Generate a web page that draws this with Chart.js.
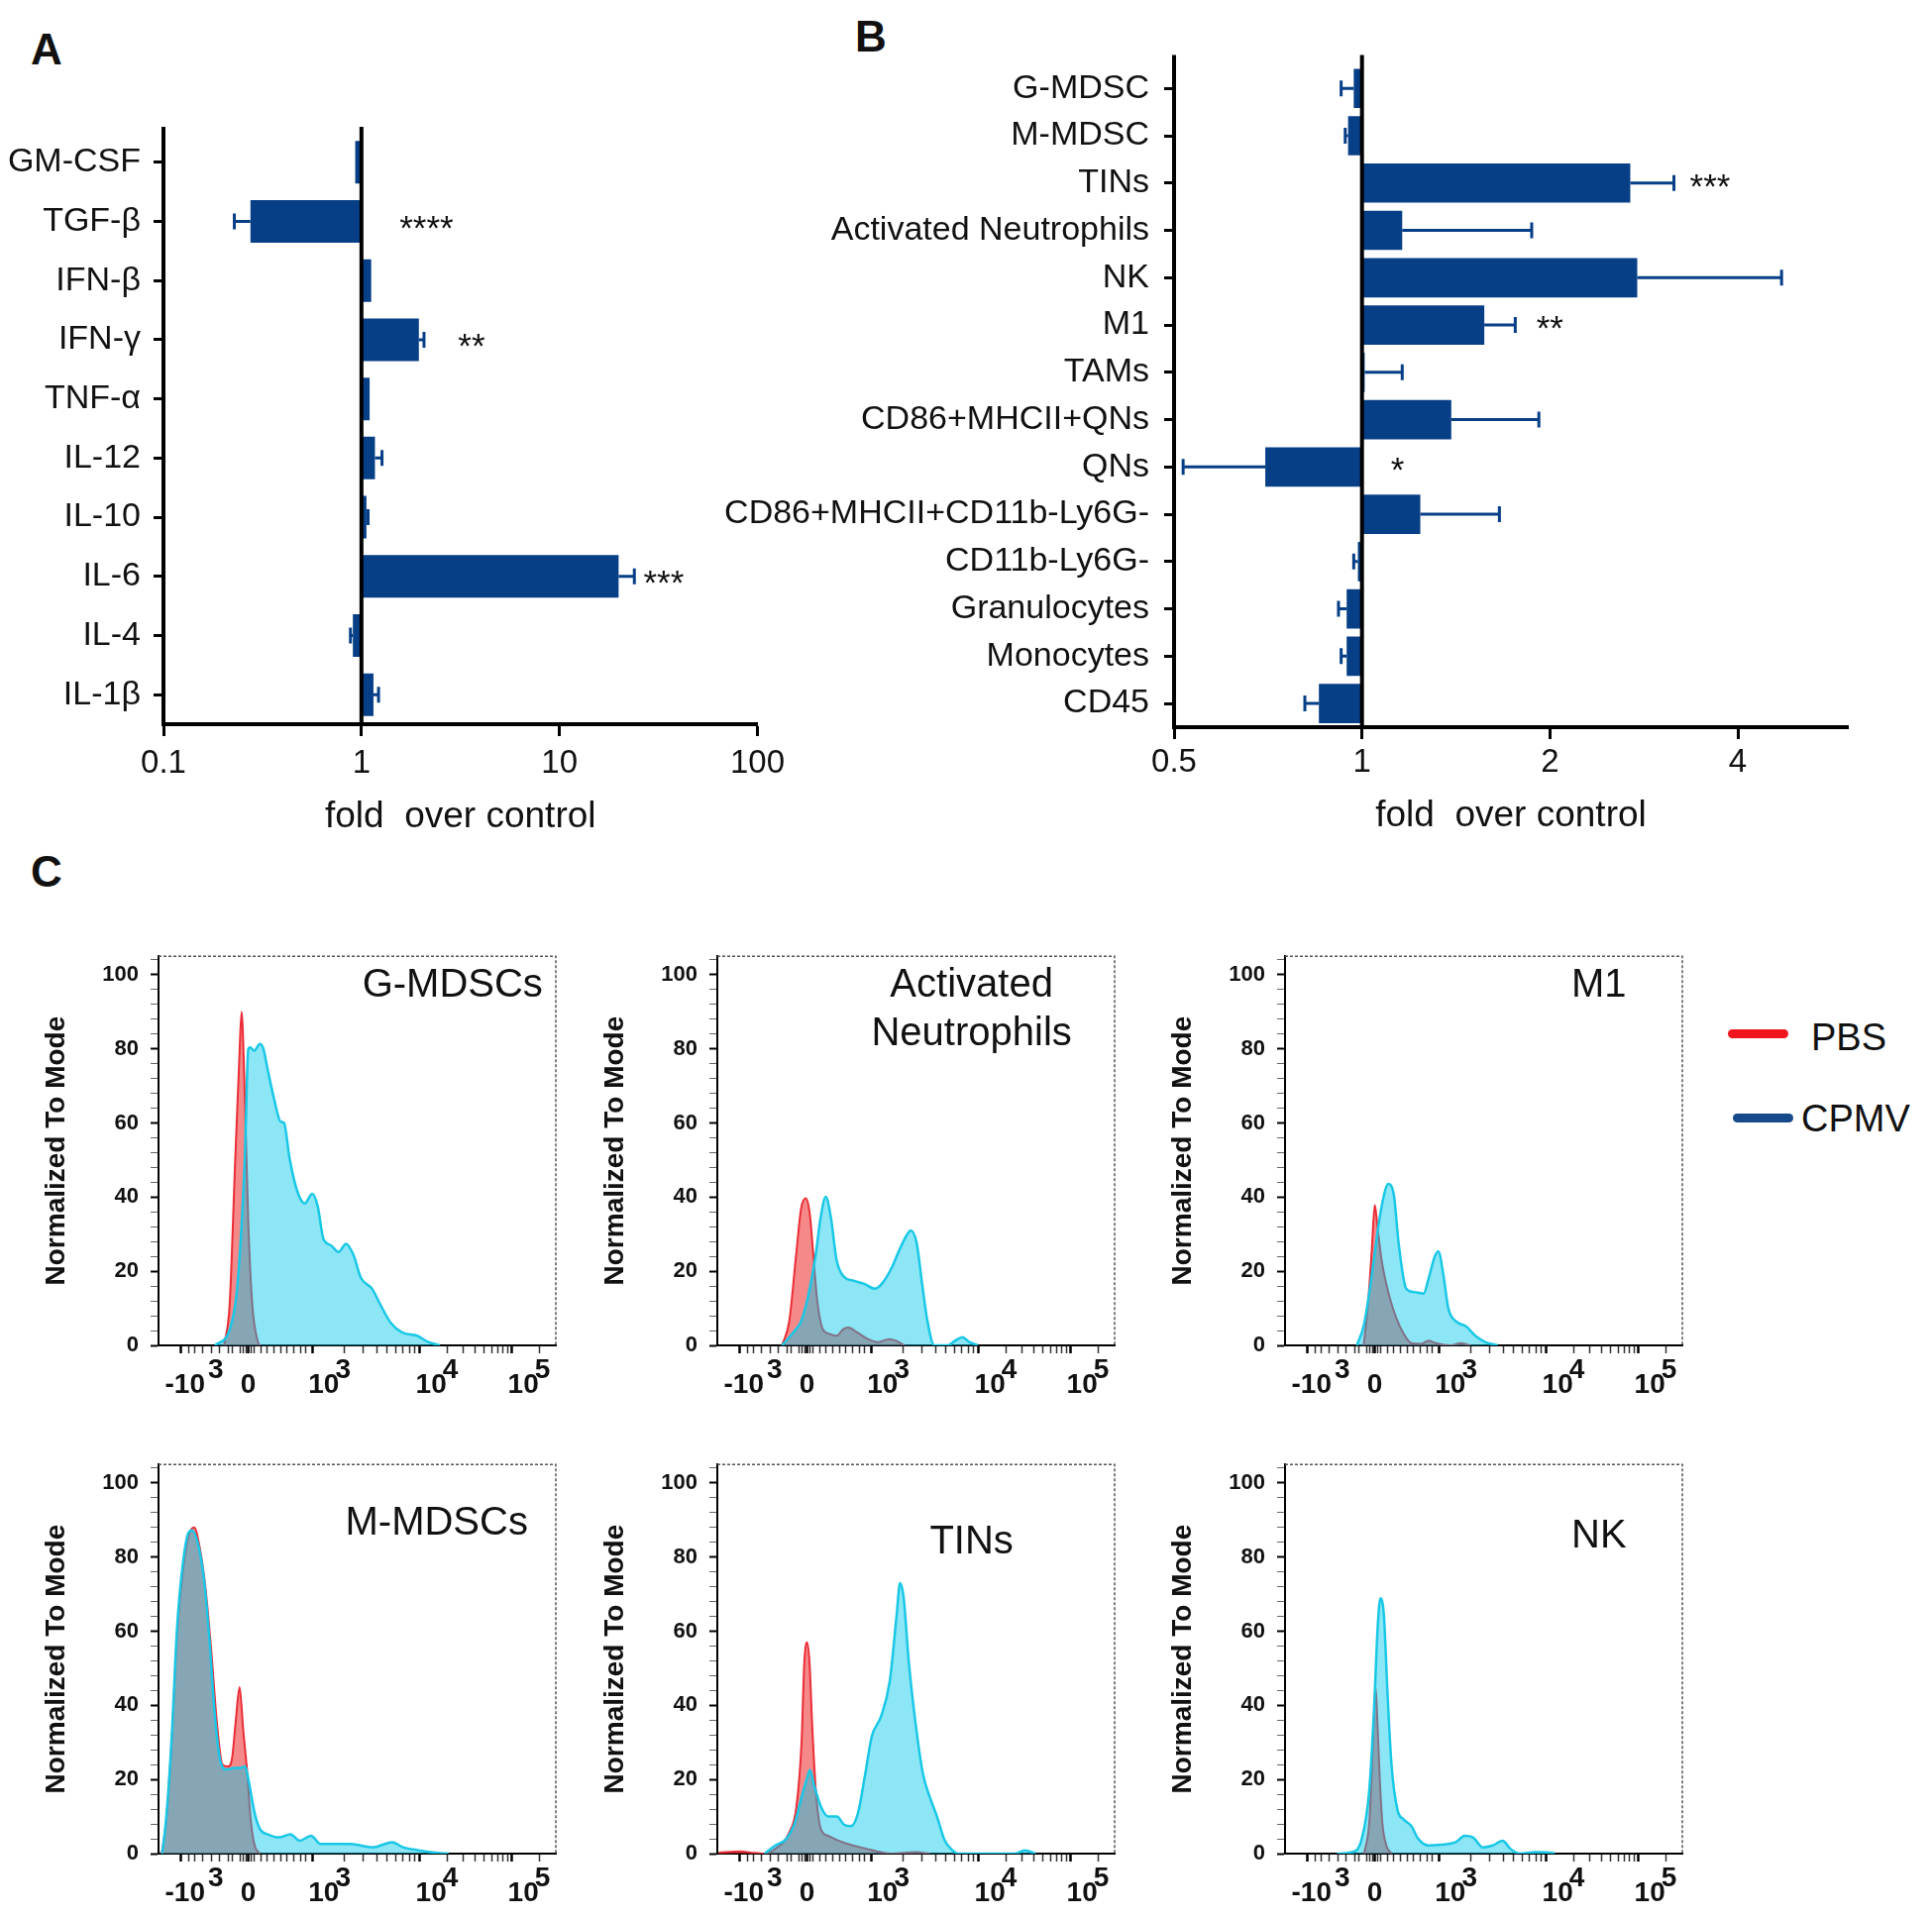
<!DOCTYPE html>
<html>
<head>
<meta charset="utf-8">
<script src="https://cdn.jsdelivr.net/npm/chart.js@4.4.1/dist/chart.umd.min.js"></script>
<style>
  html, body { margin: 0; padding: 0; background: #fff; }
  body { width: 1950px; height: 1937px; position: relative; overflow: hidden; font-family: "Liberation Sans", Arial, sans-serif; color: #111; }
  .letter { position: absolute; font-weight: bold; font-size: 44px; line-height: 1; transform: translate(-50%, -50%); }
  .legend-line { position: absolute; height: 9px; border-radius: 5px; }
  .legend-text { position: absolute; font-size: 38px; line-height: 1; transform: translateY(-50%); }
</style>
</head>
<body>
<div class="letter" style="left:47px;top:50px">A</div>
<div class="letter" style="left:879px;top:37px">B</div>
<div class="letter" style="left:47px;top:880px">C</div>

<div class="legend-line" style="left:1744px;top:1039px;width:61px;background:#f0141e"></div>
<div class="legend-text" style="left:1828px;top:1047px">PBS</div>
<div class="legend-line" style="left:1749px;top:1124px;width:61px;background:#174a8b"></div>
<div class="legend-text" style="left:1818px;top:1129px">CPMV</div>

<script>
// ---- panel A : cytokines ----
const cytokines = ['GM-CSF', 'TGF-β', 'IFN-β', 'IFN-γ', 'TNF-α', 'IL-12', 'IL-10', 'IL-6', 'IL-4', 'IL-1β'];
const cytokineFold = [0.93, 0.275, 1.12, 1.95, 1.10, 1.17, 1.06, 19.9, 0.905, 1.15];
const cytokineErr = [0.93, 0.228, 1.12, 2.07, 1.10, 1.27, 1.08, 23.9, 0.88, 1.22];
const cytokineSig = ['', '****', '', '**', '', '', '', '***', '', ''];
const cytokineSigAt = [null, 2.13, null, 3.6, null, null, null, 33.6, null, null];
const foldTicksA = [0.1, 1, 10, 100];
const foldLabelsA = ['0.1', '1', '10', '100'];

// ---- panel B : immune cell populations ----
const cellTypes = ['G-MDSC', 'M-MDSC', 'TINs', 'Activated Neutrophils', 'NK', 'M1', 'TAMs',
  'CD86+MHCII+QNs', 'QNs', 'CD86+MHCII+CD11b-Ly6G-', 'CD11b-Ly6G-', 'Granulocytes', 'Monocytes', 'CD45'];
const cellFold = [0.97, 0.95, 2.69, 1.16, 2.76, 1.57, 1.01, 1.39, 0.70, 1.24, 0.985, 0.945, 0.945, 0.853];
const cellErr = [0.926, 0.94, 3.16, 1.87, 4.7, 1.76, 1.16, 1.92, 0.517, 1.66, 0.97, 0.917, 0.926, 0.81];
const cellSig = ['', '', '***', '', '', '**', '', '', '*', '', '', '', '', ''];
const cellSigAt = [null, null, 3.61, null, null, 2.0, null, null, 1.14, null, null, null, null, null];
const foldTicksB = [0.5, 1, 2, 4];
const foldLabelsB = ['0.5', '1', '2', '4'];

// ---- panel C : histograms (x = display channel, % of axis; y = % of mode) ----
const fluorTickPos = [5.7, 22.6, 38.7, 65.7, 88.9];
// two-line labels: exponent row above the base row
const fluorTickLabels = [['         3', ' -10'], ['', '0'], ['        3', '   10'], ['        4', '   10'], ['        5', '   10']];
const fluorMinorTicks = [7.5, 9.1, 11.2, 13.3, 15.4, 17.5, 18.7, 20.5, 21.2, 22.0, 23.2, 24.0,
  25.8, 27.4, 29.1, 30.8, 32.4, 34.1, 35.7, 37.0, 46.8, 51.6, 55.0, 57.6, 59.7, 61.5, 63.1, 64.5,
  72.7, 76.8, 79.7, 81.9, 83.8, 85.3, 86.7, 87.9, 95.9];
const modeTicks = [0, 20, 40, 60, 80, 100];

const gmdscCPMV = [[14.2,0],[17.9,4.3],[19.8,15.6],[21.7,50],[22.6,80],[23.1,80.4],[24.1,79.5],[25.5,81.3],[26.4,80],[27.4,74.8],[29.2,66],[30.7,60.4],[31.6,60],[33.0,50.4],[34.9,41.7],[36.8,38.3],[38.7,40.9],[40.1,37.4],[41.5,28.7],[43.4,27],[45.3,25.2],[47.2,27.4],[49.1,24.3],[50.9,18.3],[53.8,15.2],[55.7,11.3],[58.5,6],[61.3,3.5],[65.1,2.6],[67.9,0.9],[70.8,0]];
const gmdscPBS = [[16.5,0],[17.9,11],[19.3,50],[20.3,76.5],[20.9,90],[21.7,68],[22.6,33],[23.6,11],[25.0,1],[25.5,0]];

const actNeutCPMV = [[16.3,0],[19.4,3.9],[21.1,6.5],[22.9,13.5],[24.7,24],[26.0,34.4],[27.3,40.1],[28.6,34.4],[30.0,23.1],[31.7,18.7],[34.4,17.4],[37.0,16.6],[39.6,15.3],[41.4,16.6],[44.1,21.4],[45.8,25.7],[47.6,29.6],[48.7,31],[50.2,27.5],[51.5,17],[52.9,6.5],[54.6,0],[58.1,0],[59.9,1.3],[61.7,2.2],[63.4,0.9],[65.6,0]];
const actNeutPBS = [[16.3,0],[18.1,6.5],[19.8,24],[21.1,37],[22.3,39.7],[23.3,35.3],[24.2,24],[25.1,12.6],[26.4,4.8],[28.2,3.1],[30.0,2.6],[31.7,4.4],[33.0,4.8],[35.2,3.5],[37.9,1.7],[40.5,0.9],[43.2,1.7],[44.9,1.3],[47.1,0]];

const m1CPMV = [[18.1,0],[19.9,5.7],[21.8,18.7],[23.7,33.6],[24.9,40.5],[25.9,43.6],[27.4,40.5],[28.6,27.5],[30.5,15.3],[32.4,14.4],[34.9,14],[36.1,17.9],[37.7,24],[38.6,25.3],[39.9,18.7],[41.1,10],[43.0,6.5],[45.5,5.2],[47.9,2.6],[50.4,0.9],[53.5,0]];
const m1PBS = [[19.8,0],[20.8,10],[21.8,25],[22.6,37.9],[23.3,31.8],[24.3,23.1],[26.2,13.5],[28.0,7.4],[29.9,3.1],[31.8,0.6],[34.2,0.4],[36.1,1.3],[38.0,0.6],[41.7,0],[44.2,0.6],[46.7,0]];

const mmdscCPMV = [[0.9,0],[1.9,9.2],[3.3,31],[4.7,61.5],[6.2,78.9],[7.6,86.7],[8.5,87.2],[10.0,83.3],[11.4,74.5],[12.8,58],[14.2,37.1],[15.6,24.8],[17.1,22.7],[19.0,23.1],[20.4,23.1],[21.8,23.5],[22.7,19.6],[24.2,10.9],[25.6,6.5],[27.5,5.2],[30.3,4.4],[33.2,5.2],[35.5,3.5],[38.4,4.8],[40.8,2.6],[43.6,2.6],[48.3,2.6],[54.0,1.7],[58.8,3.1],[61.6,1.7],[65.4,0.9],[70.1,0.2],[73.0,0]];
const mmdscPBS = [[0.8,0],[1.9,8.3],[3.3,30],[4.7,59.7],[6.2,77],[7.6,85.8],[9.0,88],[10.4,82.4],[11.8,71.9],[13.3,54.5],[14.7,35.3],[16.1,24],[17.5,23.5],[18.5,25.7],[19.4,35.3],[20.4,44.9],[21.3,33.6],[22.3,22.2],[23.2,9.2],[24.2,2.2],[25.6,0]];

const tinsCPMV = [[11.9,0],[14.6,2.2],[17.3,3.9],[19.5,8.3],[21.2,15.2],[22.6,20.4],[23.3,22.6],[24.3,18.7],[26.1,12.6],[27.9,10],[30.1,10],[31.9,7.8],[33.6,7.4],[35.4,10.9],[37.2,21.3],[38.9,31.7],[41.2,37],[43.4,46.5],[45.1,63.9],[46.0,73],[46.9,69.1],[48.2,51.7],[50.0,34.3],[51.8,21.3],[53.5,15.2],[55.3,10],[57.1,3.9],[58.8,1.3],[60.6,0],[74.8,0],[77.4,0.9],[80.1,0]];
const tinsPBS = [[0.4,0.3],[5.8,0.6],[8.4,0.3],[11.9,0],[14.6,1.3],[18.1,5.7],[19.9,12.6],[21.2,30],[21.9,51.7],[22.6,57],[23.2,51.7],[23.9,34.3],[24.8,17],[26.1,6.5],[27.9,4.8],[30.5,3.5],[34.1,2.2],[37.6,1.3],[41.2,0.4],[43.8,0],[50.0,0.4],[53.5,0]];

const nkCPMV = [[13.1,0],[16.8,0.4],[19.3,3.9],[21.2,17],[22.4,38.8],[23.3,60.6],[24.0,68.9],[24.9,64.1],[25.8,43.2],[26.8,24],[28.3,11.8],[29.9,9.2],[31.8,7.4],[33.6,3.9],[36.1,2.2],[39.2,2.4],[43.0,3.1],[45.2,4.8],[47.3,4.4],[49.8,1.7],[52.3,2.2],[54.8,3.5],[56.7,1.3],[59.2,0],[62.9,0.4],[66.6,0.3],[67.9,0]];
const nkPBS = [[19.9,0],[21.2,8.3],[22.0,25.7],[22.8,44.9],[23.3,34.4],[23.8,21.4],[24.5,8.3],[25.5,2.2],[26.8,0]];

const NAVY = '#073f87';
const FONT = '"Liberation Sans", Arial, sans-serif';
Chart.defaults.font.family = FONT;
Chart.defaults.color = '#111';

function makeCanvas(left, top, width, height) {
  const c = document.createElement('canvas');
  c.width = width;
  c.height = height;
  c.style.cssText = `position:absolute;left:${left}px;top:${top}px;width:${width}px;height:${height}px`;
  document.body.appendChild(c);
  return c;
}

function errorBars(values, ends) {
  return {
    id: 'errorBars',
    afterDatasetsDraw(chart) {
      const { ctx, scales } = chart;
      const meta = chart.getDatasetMeta(0);
      ctx.save();
      ctx.strokeStyle = NAVY;
      ctx.lineWidth = 3;
      values.forEach((v, i) => {
        const e = ends[i];
        if (e == null || e === v) return;
        const y = meta.data[i].y;
        const x1 = scales.x.getPixelForValue(v);
        const x2 = scales.x.getPixelForValue(e);
        ctx.beginPath();
        ctx.moveTo(x1, y); ctx.lineTo(x2, y);
        ctx.moveTo(x2, y - 8); ctx.lineTo(x2, y + 8);
        ctx.stroke();
      });
      ctx.restore();
    }
  };
}

function refLine(extendTop) {
  return {
    id: 'refLine',
    afterDatasetsDraw(chart) {
      const { ctx, chartArea, scales } = chart;
      const x = scales.x.getPixelForValue(1);
      const top = chartArea.top - extendTop;
      ctx.save();
      ctx.strokeStyle = '#000';
      ctx.lineWidth = 4;
      ctx.beginPath();
      ctx.moveTo(x, top); ctx.lineTo(x, chartArea.bottom);
      if (extendTop) { ctx.moveTo(chartArea.left, top); ctx.lineTo(chartArea.left, chartArea.top + 2); }
      ctx.stroke();
      ctx.restore();
    }
  };
}

function sigMarks(texts, at, dy) {
  return {
    id: 'sigMarks',
    afterDatasetsDraw(chart) {
      const { ctx, scales } = chart;
      ctx.save();
      ctx.fillStyle = '#111';
      ctx.font = `35px ${FONT}`;
      ctx.textAlign = 'center';
      ctx.textBaseline = 'alphabetic';
      texts.forEach((t, i) => {
        if (!t) return;
        ctx.fillText(t, scales.x.getPixelForValue(at[i]), scales.y.getPixelForValue(i) + dy);
      });
      ctx.restore();
    }
  };
}

function renderBarPanel(p) {
  const canvas = makeCanvas(p.left, p.top, p.width, p.height);
  new Chart(canvas, {
    type: 'bar',
    data: {
      labels: p.labels,
      datasets: [{
        data: p.values.map(v => [1, v]),
        backgroundColor: NAVY,
        borderWidth: 0,
        barPercentage: p.barPct,
        categoryPercentage: 1
      }]
    },
    options: {
      indexAxis: 'y',
      responsive: false,
      animation: false,
      devicePixelRatio: 1,
      layout: { padding: { top: p.padTop, right: p.padRight, left: 0, bottom: 0 } },
      plugins: { legend: { display: false }, tooltip: { enabled: false } },
      scales: {
        x: {
          type: 'logarithmic',
          min: p.min,
          max: p.max,
          afterBuildTicks: s => { s.ticks = p.ticks.map(v => ({ value: v })); },
          afterFit: s => { s.height = 130; },
          ticks: { callback: (v, i) => p.tickLabels[i], font: { size: 33 }, color: '#111', padding: p.tickPad, maxRotation: 0, autoSkip: false },
          grid: { drawOnChartArea: false, tickLength: 12, tickWidth: 3, tickColor: '#000' },
          border: { color: '#000', width: 4 },
          title: { display: true, text: 'fold  over control', font: { size: 37 }, color: '#111', padding: { top: 0, bottom: p.titlePad } }
        },
        y: {
          afterFit: s => { s.width = p.yAxisW; },
          ticks: { font: { size: 34 }, color: '#111', padding: p.labelPad, autoSkip: false },
          grid: { drawOnChartArea: false, offset: false, tickLength: 10, tickWidth: 3, tickColor: '#000' },
          border: { color: '#000', width: 4 }
        }
      }
    },
    plugins: [errorBars(p.values, p.ends), refLine(p.extendTop), sigMarks(p.sig, p.sigAt, p.sigDy)]
  });
}

renderBarPanel({
  left: 0, top: 98, width: 800, height: 763, padTop: 36, padRight: 31, yAxisW: 165,
  labels: cytokines, values: cytokineFold, ends: cytokineErr, sig: cytokineSig, sigAt: cytokineSigAt,
  min: 0.1, max: 100, ticks: foldTicksA, tickLabels: foldLabelsA, barPct: 0.72,
  tickPad: 8, titlePad: 14, extendTop: 6, labelPad: 13, sigDy: 18
});

renderBarPanel({
  left: 700, top: 30, width: 1205, height: 834, padTop: 32, padRight: 40, yAxisW: 485,
  labels: cellTypes, values: cellFold, ends: cellErr, sig: cellSig, sigAt: cellSigAt,
  min: 0.5, max: 6, ticks: foldTicksB, tickLabels: foldLabelsB, barPct: 0.83,
  tickPad: 4, titlePad: 18, extendTop: 10, labelPad: 15, sigDy: 15
});

// ---- histograms ----
const frame = {
  id: 'frame',
  beforeDatasetsDraw(chart) {
    const { ctx, chartArea: a } = chart;
    ctx.save();
    ctx.strokeStyle = '#555';
    ctx.lineWidth = 1.5;
    ctx.setLineDash([3, 2]);
    ctx.beginPath();
    ctx.moveTo(a.left, a.top); ctx.lineTo(a.right, a.top); ctx.lineTo(a.right, a.bottom);
    ctx.stroke();
    ctx.restore();
  }
};

function panelTitle(lines, fx, dy) {
  return {
    id: 'panelTitle',
    afterDraw(chart) {
      const { ctx, chartArea: a } = chart;
      ctx.save();
      ctx.fillStyle = '#111';
      ctx.font = `40px ${FONT}`;
      ctx.textAlign = 'center';
      ctx.textBaseline = 'middle';
      lines.forEach((t, i) => ctx.fillText(t, a.left + fx * (a.right - a.left), a.top + dy + i * 49));
      ctx.restore();
    }
  };
}

const BOX_H = 408;
const isMajorX = v => fluorTickPos.includes(v);

function renderHistogram(p) {
  const canvas = makeCanvas(p.left - 124, p.top - 10, 545, 10 + BOX_H + 72);
  new Chart(canvas, {
    type: 'line',
    data: {
      datasets: [
        { label: 'CPMV', data: p.cpmv, order: 1, fill: 'origin', backgroundColor: 'rgba(0,200,235,0.45)',
          borderColor: 'rgb(25,200,230)', borderWidth: 2.5, pointRadius: 0, cubicInterpolationMode: 'monotone' },
        { label: 'PBS', data: p.pbs, order: 2, fill: 'origin', backgroundColor: 'rgba(235,20,20,0.5)',
          borderColor: 'rgb(235,45,55)', borderWidth: 2, pointRadius: 0, cubicInterpolationMode: 'monotone' }
      ]
    },
    options: {
      responsive: false,
      animation: false,
      devicePixelRatio: 1,
      layout: { padding: { top: 10, right: 20, left: 0, bottom: 0 } },
      plugins: { legend: { display: false }, tooltip: { enabled: false } },
      scales: {
        x: {
          type: 'linear', min: 0, max: 100,
          afterBuildTicks: s => {
            s.ticks = fluorTickPos.concat(fluorMinorTicks).sort((a, b) => a - b).map(v => ({ value: v }));
          },
          afterFit: s => { s.height = 72; },
          ticks: {
            callback: v => { const i = fluorTickPos.indexOf(v); return i >= 0 ? fluorTickLabels[i] : ''; },
            font: { size: 28, weight: 'bold', lineHeight: 0.54 }, color: '#111', padding: 10, maxRotation: 0, autoSkip: false
          },
          grid: { drawOnChartArea: false, tickLength: 8, tickWidth: c => (isMajorX(c.tick && c.tick.value) ? 2.5 : 1.5),
            tickColor: c => (isMajorX(c.tick && c.tick.value) ? '#000' : '#333') },
          border: { color: '#000', width: 2 }
        },
        y: {
          min: 0, max: 105,
          afterBuildTicks: s => {
            const t = [];
            for (let v = 0; v <= 104; v += 4) t.push({ value: v });
            s.ticks = t;
          },
          afterFit: s => { s.width = 124; },
          ticks: { callback: v => (modeTicks.includes(v) ? String(v) : ''), font: { size: 22, weight: 'bold' }, color: '#111', padding: 12, autoSkip: false },
          grid: { drawOnChartArea: false, tickLength: 8, tickWidth: c => (modeTicks.includes(c.tick && c.tick.value) ? 2 : 1), tickColor: c => (modeTicks.includes(c.tick && c.tick.value) ? '#000' : '#666') },
          border: { color: '#000', width: 2 },
          title: { display: true, text: 'Normalized To Mode', font: { size: 28, weight: 'bold' }, color: '#111', padding: { top: 4, bottom: 0 } }
        }
      }
    },
    plugins: [frame, panelTitle(p.title, p.fx, p.dy)]
  });
}

renderHistogram({ left: 160, top: 950, cpmv: gmdscCPMV, pbs: gmdscPBS, title: ['G-MDSCs'], fx: 0.74, dy: 30 });
renderHistogram({ left: 724, top: 950, cpmv: actNeutCPMV, pbs: actNeutPBS, title: ['Activated', 'Neutrophils'], fx: 0.64, dy: 30 });
renderHistogram({ left: 1297, top: 950, cpmv: m1CPMV, pbs: m1PBS, title: ['M1'], fx: 0.79, dy: 30 });
renderHistogram({ left: 160, top: 1463, cpmv: mmdscCPMV, pbs: mmdscPBS, title: ['M-MDSCs'], fx: 0.70, dy: 60 });
renderHistogram({ left: 724, top: 1463, cpmv: tinsCPMV, pbs: tinsPBS, title: ['TINs'], fx: 0.64, dy: 79 });
renderHistogram({ left: 1297, top: 1463, cpmv: nkCPMV, pbs: nkPBS, title: ['NK'], fx: 0.79, dy: 73 });
</script>
</body>
</html>
